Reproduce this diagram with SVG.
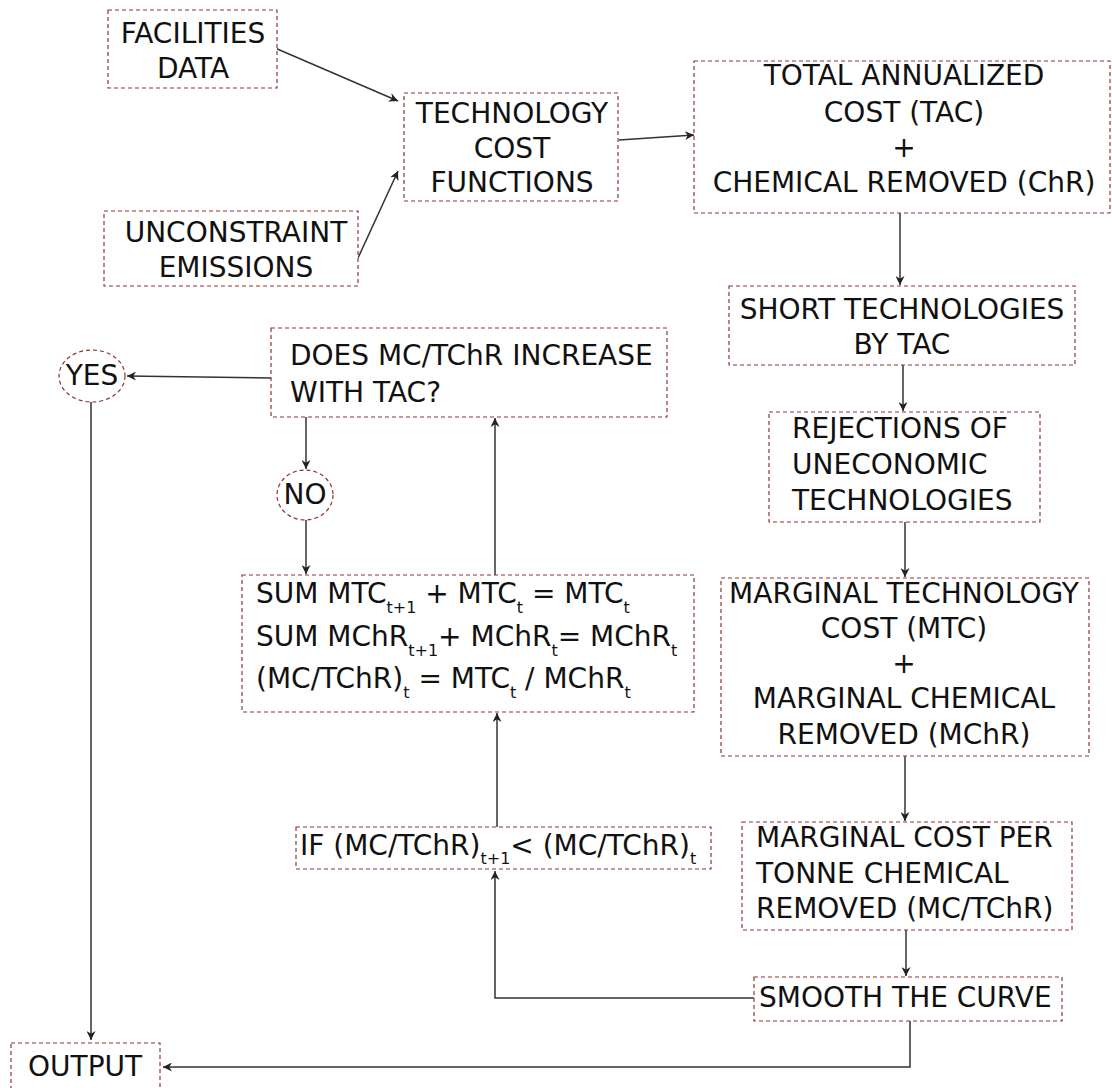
<svg xmlns="http://www.w3.org/2000/svg" width="1112" height="1088" viewBox="0 0 1112 1088">
<style>
.box{fill:#fff;stroke:#8b3535;stroke-width:1.2;stroke-dasharray:4,3}
.t{font-family:"DejaVu Sans","Liberation Sans",sans-serif;font-size:28px;fill:#111}
.c{text-anchor:middle}
.s{font-size:16px}
.ln{fill:none;stroke:#333;stroke-width:1.5}
</style>
<defs>
<marker id="ah" viewBox="0 0 10 10" refX="10" refY="5" markerWidth="9" markerHeight="9" markerUnits="userSpaceOnUse" orient="auto">
<path d="M0,0 L10,5 L0,10 L3,5 z" fill="#222"/>
</marker>
</defs>
<rect width="1112" height="1088" fill="#fff"/>

<g id="connectors">
<line class="ln" x1="275" y1="48" x2="398" y2="101" marker-end="url(#ah)"/>
<line class="ln" x1="358" y1="258" x2="398" y2="171" marker-end="url(#ah)"/>
<line class="ln" x1="619" y1="140" x2="694" y2="135" marker-end="url(#ah)"/>
<line class="ln" x1="900" y1="200" x2="900" y2="285" marker-end="url(#ah)"/>
<line class="ln" x1="903" y1="365" x2="903" y2="411" marker-end="url(#ah)"/>
<line class="ln" x1="905" y1="522" x2="905" y2="577" marker-end="url(#ah)"/>
<line class="ln" x1="905" y1="756" x2="905" y2="821" marker-end="url(#ah)"/>
<line class="ln" x1="906" y1="930" x2="906" y2="976" marker-end="url(#ah)"/>
<polyline class="ln" points="754,998 495,998 495,871" marker-end="url(#ah)"/>
<polyline class="ln" points="910,1021 910,1067 163,1067" marker-end="url(#ah)"/>
<line class="ln" x1="497" y1="827" x2="497" y2="713" marker-end="url(#ah)"/>
<line class="ln" x1="495" y1="575" x2="495" y2="418" marker-end="url(#ah)"/>
<line class="ln" x1="306" y1="417" x2="306" y2="469" marker-end="url(#ah)"/>
<line class="ln" x1="306" y1="520" x2="306" y2="574" marker-end="url(#ah)"/>
<line class="ln" x1="271" y1="378" x2="127" y2="376" marker-end="url(#ah)"/>
<line class="ln" x1="91" y1="402" x2="91" y2="1040" marker-end="url(#ah)"/>
</g>

<g id="facilities">
<rect class="box" x="108" y="10" width="169" height="78"/>
<text class="t c" x="193" y="43">FACILITIES</text>
<text class="t c" x="193" y="78">DATA</text>
</g>

<g id="unconstraint">
<rect class="box" x="104" y="211" width="254" height="75"/>
<text class="t c" x="236" y="242">UNCONSTRAINT</text>
<text class="t c" x="236" y="277">EMISSIONS</text>
</g>

<g id="techcost">
<rect class="box" x="404" y="93" width="214" height="108"/>
<text class="t c" x="512" y="123">TECHNOLOGY</text>
<text class="t c" x="512" y="158">COST</text>
<text class="t c" x="512" y="192">FUNCTIONS</text>
</g>

<g id="tac">
<rect class="box" x="694" y="61" width="416" height="152"/>
<text class="t c" x="904" y="85">TOTAL ANNUALIZED</text>
<text class="t c" x="904" y="122">COST (TAC)</text>
<text class="t c" x="904" y="157">+</text>
<text class="t c" x="904" y="192">CHEMICAL REMOVED (ChR)</text>
</g>

<g id="short">
<rect class="box" x="729" y="286" width="346" height="79"/>
<text class="t c" x="902" y="319">SHORT TECHNOLOGIES</text>
<text class="t c" x="902" y="354">BY TAC</text>
</g>

<g id="rejections">
<rect class="box" x="769" y="412" width="271" height="110"/>
<text class="t" x="792" y="438">REJECTIONS OF</text>
<text class="t" x="792" y="474">UNECONOMIC</text>
<text class="t" x="792" y="510">TECHNOLOGIES</text>
</g>

<g id="marginal">
<rect class="box" x="721" y="578" width="368" height="178"/>
<text class="t c" x="904" y="603">MARGINAL TECHNOLOGY</text>
<text class="t c" x="904" y="638">COST (MTC)</text>
<text class="t c" x="904" y="673">+</text>
<text class="t c" x="904" y="708">MARGINAL CHEMICAL</text>
<text class="t c" x="904" y="744">REMOVED (MChR)</text>
</g>

<g id="mctchr">
<rect class="box" x="742" y="822" width="330" height="108"/>
<text class="t" x="756" y="847">MARGINAL COST PER</text>
<text class="t" x="756" y="883">TONNE CHEMICAL</text>
<text class="t" x="756" y="918">REMOVED (MC/TChR)</text>
</g>

<g id="smooth">
<rect class="box" x="754" y="977" width="308" height="44"/>
<text class="t" x="759" y="1007">SMOOTH THE CURVE</text>
</g>

<g id="output">
<rect class="box" x="11" y="1043" width="149" height="60"/>
<text class="t" x="28" y="1076">OUTPUT</text>
</g>

<g id="yes">
<ellipse class="box" cx="92" cy="376" rx="33" ry="26"/>
<text class="t c" x="92" y="385">YES</text>
</g>

<g id="does">
<rect class="box" x="271" y="328" width="396" height="89"/>
<text class="t" x="290" y="365">DOES MC/TChR INCREASE</text>
<text class="t" x="290" y="402">WITH TAC?</text>
</g>

<g id="no">
<ellipse class="box" cx="305" cy="495" rx="28" ry="25"/>
<text class="t c" x="305" y="504">NO</text>
</g>

<g id="sum">
<rect class="box" x="242" y="575" width="452" height="137"/>
<text class="t" x="256" y="603">SUM MTC<tspan class="s" dy="10">t+1</tspan><tspan dy="-10"> + MTC</tspan><tspan class="s" dy="10">t</tspan><tspan dy="-10"> = MTC</tspan><tspan class="s" dy="10">t</tspan></text>
<text class="t" x="256" y="646">SUM MChR<tspan class="s" dy="10">t+1</tspan><tspan dy="-10">+ MChR</tspan><tspan class="s" dy="10">t</tspan><tspan dy="-10">= MChR</tspan><tspan class="s" dy="10">t</tspan></text>
<text class="t" x="256" y="688">(MC/TChR)<tspan class="s" dy="10">t</tspan><tspan dy="-10"> = MTC</tspan><tspan class="s" dy="10">t</tspan><tspan dy="-10"> / MChR</tspan><tspan class="s" dy="10">t</tspan></text>
</g>

<g id="ifbox">
<rect class="box" x="296" y="827" width="415" height="42"/>
<text class="t" x="300" y="855">IF (MC/TChR)<tspan class="s" dy="9">t+1</tspan><tspan dy="-9">&lt; (MC/TChR)</tspan><tspan class="s" dy="9">t</tspan></text>
</g>
</svg>
